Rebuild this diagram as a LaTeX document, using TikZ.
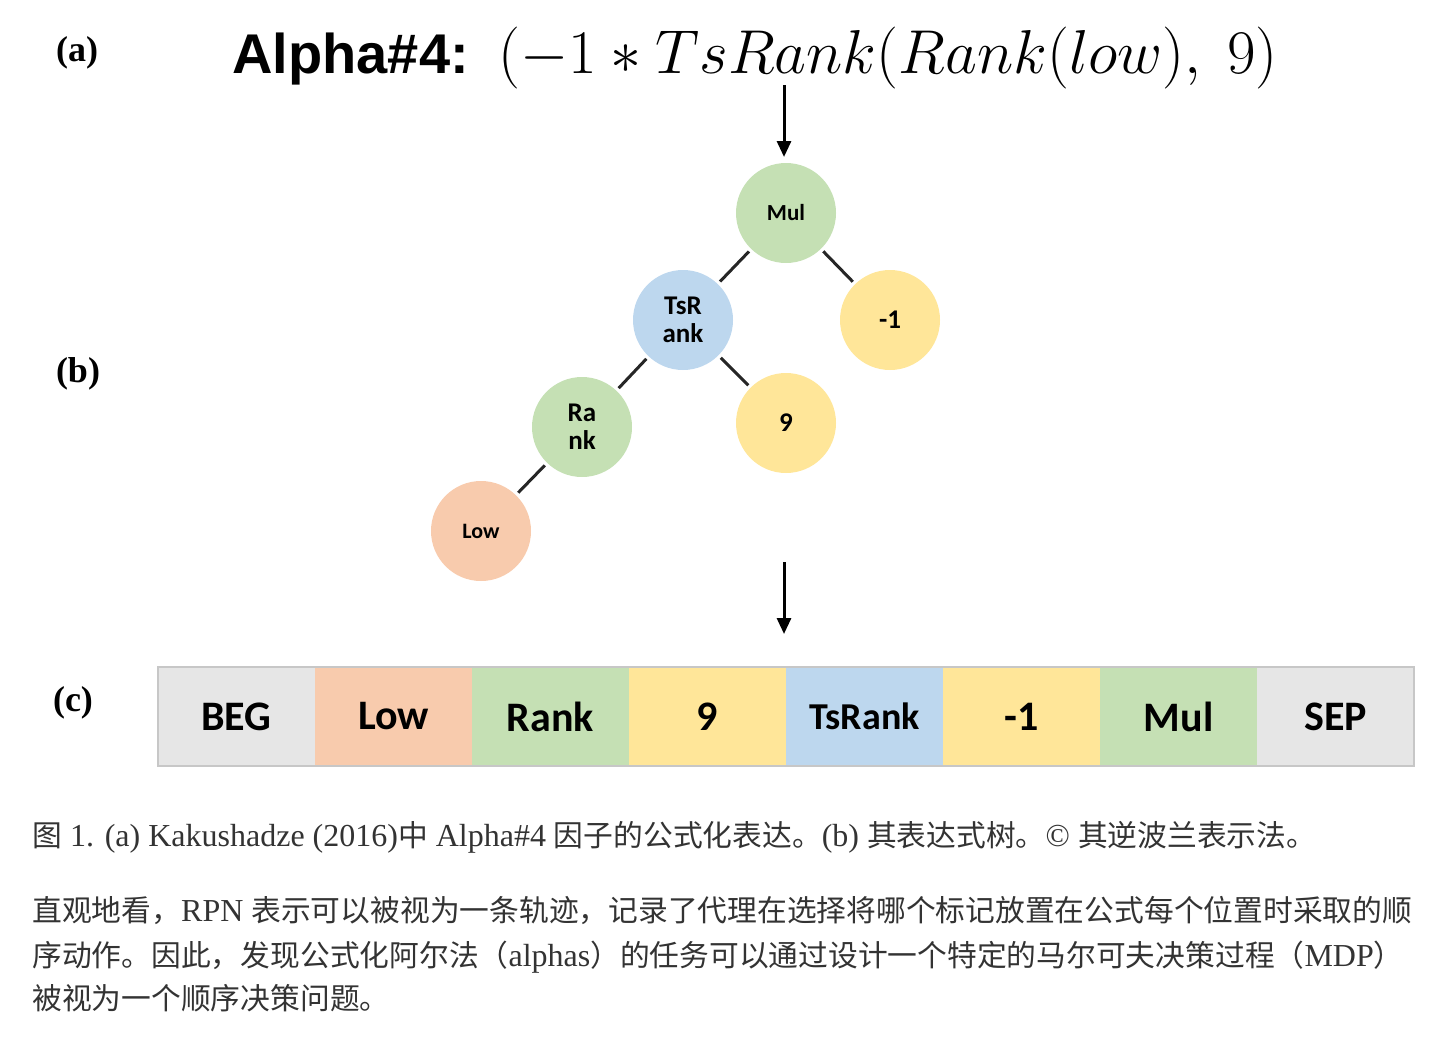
\RequirePackage{fix-cm}
\documentclass[tikz,border=0pt]{standalone}
\usepackage{fontspec}
\usepackage{amsmath}
\usetikzlibrary{arrows.meta,positioning}
\setmainfont{Liberation Serif}
\newfontfamily\cjk[Scale=0.93]{Noto Sans CJK SC}
\newfontfamily\calibri{Carlito}
\newfontfamily\arialsans{Liberation Sans}
\definecolor{mulgreen}{RGB}{197,224,180}
\definecolor{tsblue}{RGB}{189,215,238}
\definecolor{numyellow}{RGB}{255,230,153}
\definecolor{loworange}{RGB}{248,203,173}
\definecolor{tokgray}{RGB}{230,230,230}
\definecolor{captext}{RGB}{51,51,51}

\begin{document}
\begin{tikzpicture}[x=0.5pt, y=-0.5pt,
        treenode/.style={circle, minimum size=50pt, inner sep=0pt, align=center,
              font=\calibri\bfseries\fontsize{13.5}{14}\selectfont},
        edge/.style={line width=1.5pt, draw=black!85, shorten <=1.5pt, shorten >=1.5pt},
        arr/.style={line width=1.5pt, -{Triangle[length=8pt, width=7pt]}},
        tok/.style={minimum width=78.5pt, minimum height=49.5pt, inner sep=0pt, outer sep=0pt,
              font=\calibri\bfseries\fontsize{21}{24}\selectfont},
        partlabel/.style={font=\bfseries\fontsize{18}{20}\selectfont, inner sep=0pt},
        captionline/.style={anchor=base west, inner sep=0pt, text=captext,
              font=\fontsize{16}{22}\selectfont}]
        \useasboundingbox (0,0) rectangle (1449,1044);

        \node[partlabel] (la) at (77,53) {(a)};
        \node[partlabel] (lb) at (78,374) {(b)};
        \node[partlabel] (lc) at (73,703) {(c)};

        \node[anchor=base west, inner sep=0pt, font=\arialsans\bfseries\fontsize{28}{32}\selectfont]
              (alpha) at (232,73) {Alpha\#4:};
        \node[anchor=base west, inner sep=0pt, font=\fontsize{31}{34}\selectfont]
              (formula) at (498,73) {$(-1 * TsRank(Rank(low),\ 9)$};

        \node[treenode, fill=mulgreen, font=\calibri\bfseries\fontsize{11.5}{14}\selectfont]
              (mul) at (786,213) {Mul};
        \node[treenode, fill=tsblue] (tsrank) at (683,320) {TsR\\ank};
        \node[treenode, fill=numyellow] (neg) at (890,320) {-1};
        \node[treenode, fill=mulgreen] (rank) at (582,427) {Ra\\nk};
        \node[treenode, fill=numyellow] (nine) at (786,423) {9};
        \node[treenode, fill=loworange, font=\calibri\bfseries\fontsize{11}{12}\selectfont]
              (low) at (481,531) {Low};

        \draw[edge] (mul) -- (tsrank);
        \draw[edge] (mul) -- (neg);
        \draw[edge] (tsrank) -- (rank);
        \draw[edge] (tsrank) -- (nine);
        \draw[edge] (rank) -- (low);

        \coordinate (arrtop) at (784,85);
        \draw[arr] (arrtop) -- (784,157);
        \coordinate (arrmid) at (784,562);
        \coordinate (arrend) at (784,634);
        \draw[arr] (arrmid) -- (arrend);

        \node[tok, fill=tokgray, anchor=west] (t1) at (158,716.5) {BEG};
        \node[tok, fill=loworange, right=0pt of t1] (t2) {Low};
        \node[tok, fill=mulgreen, right=0pt of t2] (t3) {Rank};
        \node[tok, fill=numyellow, right=0pt of t3] (t4) {9};
        \node[tok, fill=tsblue, right=0pt of t4, font=\calibri\bfseries\fontsize{19}{22}\selectfont] (t5) {TsRank};
        \node[tok, fill=numyellow, right=0pt of t5] (t6) {-1};
        \node[tok, fill=mulgreen, right=0pt of t6] (t7) {Mul};
        \node[tok, fill=tokgray, right=0pt of t7] (t8) {SEP};
        \draw[black!22, line width=1pt] (t1.north west) rectangle (t8.south east);

        \node[captionline] (figcap) at (32,846)
              {{\cjk 图} 1. (a) Kakushadze (2016){\cjk 中} Alpha\#4 {\cjk 因子的公式化表达。}(b) {\cjk 其表达式树。}© {\cjk 其逆波兰表示法。}};
        \node[captionline] (para1) at (32,921)
              {{\cjk 直观地看，}RPN {\cjk 表示可以被视为一条轨迹，记录了代理在选择将哪个标记放置在公式每个位置时采取的顺}};
        \node[captionline] (para2) at (32,966)
              {{\cjk 序动作。因此，发现公式化阿尔法（}alphas{\cjk ）的任务可以通过设计一个特定的马尔可夫决策过程（}MDP{\cjk ）}};
        \node[captionline] (para3) at (32,1009)
              {{\cjk 被视为一个顺序决策问题。}};
    \end{tikzpicture}
\end{document}
